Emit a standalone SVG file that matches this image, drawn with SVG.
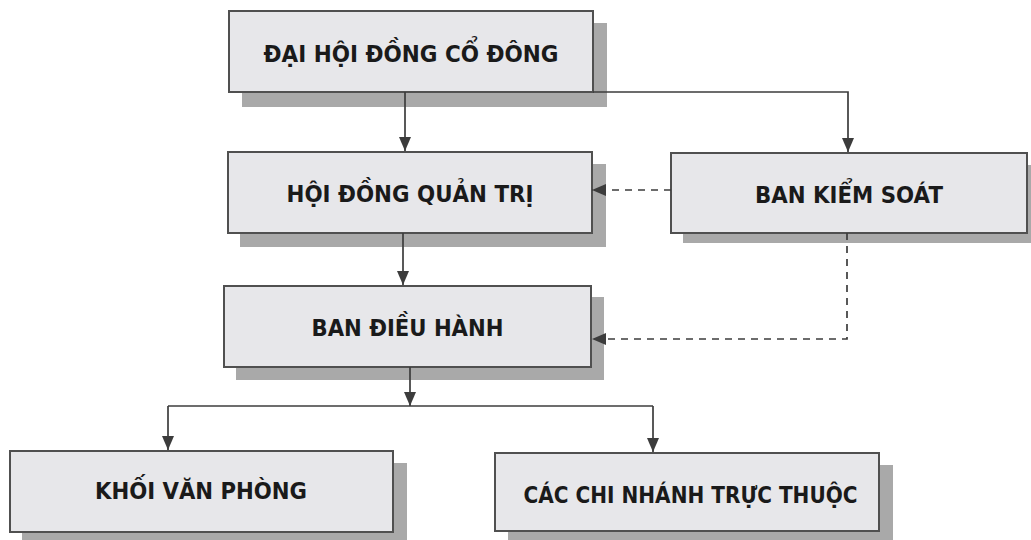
<svg xmlns="http://www.w3.org/2000/svg" width="1031" height="540" viewBox="0 0 1031 540">
<style>
.shadow{fill:#a9a9a9;}
.box{fill:#e7e7ea;stroke:#505050;stroke-width:2;}
.label{font-family:"DejaVu Sans","Liberation Sans",sans-serif;font-weight:bold;font-size:23px;fill:#1a1a1a;text-anchor:middle;}
.conn{fill:none;stroke:#3c3c3c;stroke-width:1.7;}
.dash{stroke-dasharray:7 6;}
</style>
<defs>
<marker id="arr" viewBox="0 0 14 12" refX="14" refY="6" markerWidth="14" markerHeight="12" markerUnits="userSpaceOnUse" orient="auto">
<path d="M0,0 L14,6 L0,12 z" fill="#3c3c3c"/>
</marker>
</defs>
<rect width="1031" height="540" fill="#ffffff"/>

<g id="dhdcd">
<rect class="shadow" x="242" y="23" width="365" height="84"/>
<rect class="box" x="229" y="11" width="364" height="81"/>
<text class="label" x="411" y="62" textLength="295" lengthAdjust="spacingAndGlyphs">ĐẠI HỘI ĐỒNG CỔ ĐÔNG</text>
</g>

<g id="hdqt">
<rect class="shadow" x="240" y="164" width="366" height="83"/>
<rect class="box" x="228" y="152" width="364" height="81"/>
<text class="label" x="410" y="202" textLength="247" lengthAdjust="spacingAndGlyphs">HỘI ĐỒNG QUẢN TRỊ</text>
</g>

<g id="bks">
<rect class="shadow" x="683" y="165" width="360" height="78"/>
<rect class="box" x="671" y="153" width="356" height="80"/>
<text class="label" x="849" y="203" textLength="188" lengthAdjust="spacingAndGlyphs">BAN KIỂM SOÁT</text>
</g>

<g id="bdh">
<rect class="shadow" x="236" y="297" width="368" height="83"/>
<rect class="box" x="224" y="286" width="367" height="81"/>
<text class="label" x="407.5" y="336" textLength="192" lengthAdjust="spacingAndGlyphs">BAN ĐIỀU HÀNH</text>
</g>

<g id="kvp">
<rect class="shadow" x="22" y="463" width="385" height="83"/>
<rect class="box" x="10" y="451" width="383" height="81"/>
<text class="label" x="201" y="499" textLength="212" lengthAdjust="spacingAndGlyphs">KHỐI VĂN PHÒNG</text>
</g>

<g id="ccn">
<rect class="shadow" x="508" y="465" width="385" height="80"/>
<rect class="box" x="495" y="453" width="384" height="78"/>
<text class="label" x="690.5" y="503" textLength="334" lengthAdjust="spacingAndGlyphs">CÁC CHI NHÁNH TRỰC THUỘC</text>
</g>

<g id="connectors">
<path class="conn" d="M405,92 V151" marker-end="url(#arr)"/>
<path class="conn" d="M593,92 H848 V152" marker-end="url(#arr)"/>
<path class="conn" d="M403,233 V285" marker-end="url(#arr)"/>
<path class="conn dash" d="M671,190 H592" marker-end="url(#arr)"/>
<path class="conn dash" d="M847,233 V339 H592" marker-end="url(#arr)"/>
<path class="conn" d="M410,367 V406" marker-end="url(#arr)"/>
<path class="conn" d="M168,406 H653"/>
<path class="conn" d="M168,406 V450" marker-end="url(#arr)"/>
<path class="conn" d="M653,406 V452" marker-end="url(#arr)"/>
</g>
</svg>
